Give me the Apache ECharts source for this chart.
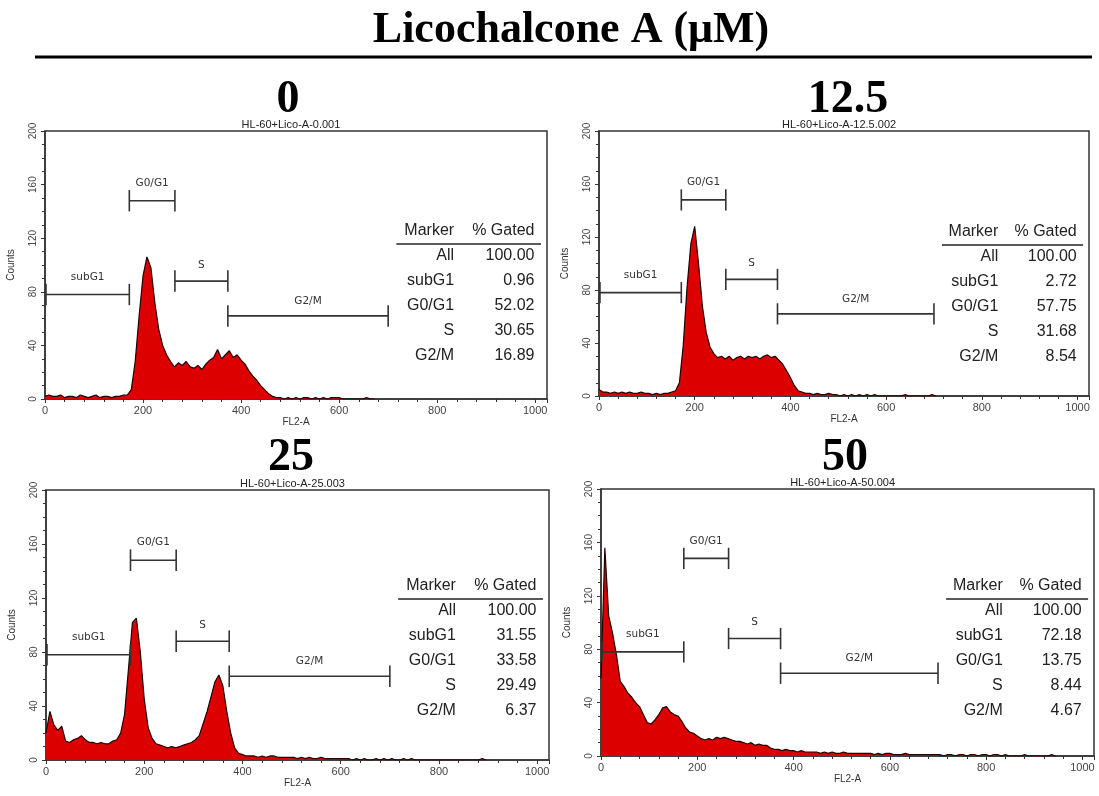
<!DOCTYPE html>
<html>
<head>
<meta charset="utf-8">
<title>Licochalcone A cell cycle</title>
<script src="https://cdn.jsdelivr.net/npm/echarts@6/dist/echarts.min.js"></script>
<style>
  html, body { margin: 0; padding: 0; background: #fff; }
  #chart { width: 1099px; height: 796px; }
</style>
</head>
<body>
<div id="chart"></div>
<script>
// width of one histogram bin on FL2-A (channels)
const binWidth = 8

// counts per bin (bin 0 = channel 0)
const counts0 = [2, 3, 2, 2, 3, 1, 2, 2, 1, 3, 2, 1, 2, 3, 1, 2, 2, 1, 2, 2,
  3, 3, 7, 28, 62, 92, 106, 98, 72, 52, 40, 33, 28, 24, 27, 25, 28, 24, 23, 25,
  22, 26, 29, 31, 37, 30, 33, 36, 31, 33, 29, 26, 21, 17, 14, 10, 7, 4, 2, 1,
  1, 0, 1, 0, 1, 0, 1, 1, 0, 1, 0, 1, 0, 1, 1, 1, 0, 0, 0, 0,
  0, 0, 1, 0, 0]
const counts12 = [5, 3, 3, 2, 3, 2, 3, 2, 3, 2, 2, 3, 2, 2, 1, 2, 1, 2, 2, 3,
  4, 10, 38, 82, 115, 128, 100, 68, 48, 37, 32, 29, 30, 28, 30, 27, 29, 30, 28, 30,
  29, 30, 28, 30, 31, 29, 30, 27, 24, 19, 14, 8, 4, 3, 2, 2, 1, 2, 1, 1,
  2, 1, 1, 0, 1, 0, 1, 0, 1, 0, 1, 0, 1, 0, 0, 0, 0, 0, 0, 0,
  1, 0, 0, 0, 0, 0, 0, 1, 0]
const counts25 = [20, 36, 26, 22, 25, 14, 13, 15, 16, 18, 15, 13, 13, 12, 13, 12, 12, 14, 15, 20,
  34, 68, 102, 105, 80, 45, 24, 16, 12, 11, 10, 9, 10, 9, 10, 11, 12, 13, 15, 18,
  27, 36, 47, 58, 63, 55, 36, 20, 9, 5, 4, 3, 3, 3, 2, 3, 2, 3, 3, 2,
  2, 2, 2, 2, 1, 2, 1, 2, 1, 1, 2, 1, 1, 1, 1, 1, 1, 1, 0, 1,
  0, 1, 0, 0, 1, 0, 1, 0, 1, 0, 0, 1, 0, 1, 0, 0, 0, 0, 0, 0,
  0, 0, 0, 0, 0, 0, 0, 0, 0, 0, 0, 1, 0]
const counts50 = [58, 156, 105, 92, 76, 56, 52, 47, 44, 40, 37, 31, 25, 24, 27, 31, 36, 37, 33, 31,
  30, 26, 21, 18, 17, 15, 13, 12, 13, 12, 14, 13, 14, 13, 12, 11, 11, 10, 9, 10,
  8, 9, 8, 8, 6, 5, 5, 4, 5, 4, 4, 3, 4, 3, 3, 3, 3, 2, 3, 2,
  3, 2, 2, 3, 2, 2, 2, 2, 2, 2, 2, 1, 2, 1, 2, 2, 1, 1, 1, 2,
  1, 1, 1, 1, 1, 1, 1, 1, 1, 0, 1, 1, 0, 1, 1, 0, 1, 1, 0, 1,
  1, 0, 1, 1, 0, 1, 0, 0, 0, 0, 1, 0, 0, 0, 0, 0, 0, 1, 0]

const doses = ['0', '12.5', '25', '50']
const sampleNames = ['HL-60+Lico-A-0.001', 'HL-60+Lico-A-12.5.002', 'HL-60+Lico-A-25.003', 'HL-60+Lico-A-50.004']

// gate markers (FL2-A range, height on the counts axis)
const markerNames = ['subG1', 'G0/G1', 'S', 'G2/M']
const markerStart = [2, 172, 265, 373]
const markerEnd = [172, 265, 373, 700]
const markerLevel = [78, 148, 88, 62]
const markerLabelLevel = [91, 161, 100, 73]

// % gated tables
const tableRows = ['All', 'subG1', 'G0/G1', 'S', 'G2/M']
const gated0 = [100.00, 0.96, 52.02, 30.65, 16.89]
const gated12 = [100.00, 2.72, 57.75, 31.68, 8.54]
const gated25 = [100.00, 31.55, 33.58, 29.49, 6.37]
const gated50 = [100.00, 72.18, 13.75, 8.44, 4.67]

const allCounts = [counts0, counts12, counts25, counts50]
const allGated = [gated0, gated12, gated25, gated50]

// pixel layout of the four panels
const panels = [
  { left: 45, top: 131, width: 502, height: 268, titleX: 288, titleY: 100, tableTop: 100 },
  { left: 599, top: 131, width: 490, height: 265, titleX: 848, titleY: 100, tableTop: 101 },
  { left: 46, top: 490, width: 503, height: 270, titleX: 291, titleY: 458, tableTop: 96 },
  { left: 601, top: 489, width: 493, height: 267, titleX: 845, titleY: 458, tableTop: 97 }
]

const axisColor = '#333'
const grids = []
const xAxes = []
const yAxes = []
const series = []
const graphics = []

// main title and rule
graphics.push({
  type: 'text', x: 571, y: 31,
  style: { text: 'Licochalcone A (μM)', font: 'bold 44px "Liberation Serif", serif', fill: '#000',
    align: 'center', verticalAlign: 'middle', textAlign: 'center', textVerticalAlign: 'middle' }
})
graphics.push({
  type: 'line', shape: { x1: 35, y1: 57, x2: 1092, y2: 57 },
  style: { stroke: '#000', lineWidth: 3 }
})

panels.forEach(function (p, i) {
  grids.push({ left: p.left, top: p.top, width: p.width, height: p.height,
    show: true, borderColor: axisColor, borderWidth: 1.5, backgroundColor: 'transparent' })
  xAxes.push({
    type: 'value', gridIndex: i, min: 0, max: 1024, interval: 200,
    name: 'FL2-A', nameLocation: 'middle', nameGap: 17,
    nameTextStyle: { fontSize: 10, color: '#333', fontFamily: 'Liberation Sans' },
    axisLine: { show: true, lineStyle: { color: axisColor, width: 1.5 } },
    axisTick: { show: true, length: 4, lineStyle: { color: axisColor } },
    minorTick: { show: true, splitNumber: 5, length: 3, lineStyle: { color: axisColor } },
    splitLine: { show: false },
    axisLabel: { fontSize: 11, color: '#444', margin: 6, fontFamily: 'Liberation Sans', showMaxLabel: false,
      formatter: function (v) { return v % 200 === 0 ? String(v) : '' } }
  })
  yAxes.push({
    type: 'value', gridIndex: i, min: 0, max: 200, interval: 40,
    name: 'Counts', nameLocation: 'middle', nameGap: 29, nameRotate: 90,
    nameTextStyle: { fontSize: 10, color: '#333', fontFamily: 'Liberation Sans' },
    axisLine: { show: true, lineStyle: { color: axisColor, width: 1.5 } },
    axisTick: { show: true, length: 4, lineStyle: { color: axisColor } },
    minorTick: { show: true, splitNumber: 4, length: 3, lineStyle: { color: axisColor } },
    splitLine: { show: false },
    axisLabel: { rotate: 90, fontSize: 10, color: '#444', margin: 7, fontFamily: 'Liberation Sans' }
  })

  // histogram
  const data = allCounts[i].map(function (c, k) { return [k * binWidth, c] })
  series.push({
    type: 'line', xAxisIndex: i, yAxisIndex: i, data: data,
    symbol: 'none', smooth: false, clip: true,
    lineStyle: { color: '#200000', width: 1.2 },
    areaStyle: { color: '#dc0000', opacity: 1 },
    z: 2
  })

  // gate markers
  const mdata = markerNames.map(function (n, k) {
    return [markerStart[k], markerEnd[k], markerLevel[k], markerLabelLevel[k]]
  })
  series.push({
    type: 'custom', xAxisIndex: i, yAxisIndex: i, data: mdata,
    encode: { x: [0, 1], y: 2 }, z: 5, silent: true,
    renderItem: function (params, api) {
      const s = api.coord([api.value(0), api.value(2)])
      const e = api.coord([api.value(1), api.value(2)])
      const lab = api.coord([(api.value(0) + api.value(1)) / 2, api.value(3)])
      const cap = api.size([0, 8])[1]
      const st = { stroke: '#333', lineWidth: 1.6 }
      return {
        type: 'group',
        children: [
          { type: 'line', shape: { x1: s[0], y1: s[1], x2: e[0], y2: e[1] }, style: st },
          { type: 'line', shape: { x1: s[0], y1: s[1] - cap, x2: s[0], y2: s[1] + cap }, style: st },
          { type: 'line', shape: { x1: e[0], y1: e[1] - cap, x2: e[0], y2: e[1] + cap }, style: st },
          { type: 'text', x: lab[0], y: lab[1],
            style: { text: markerNames[params.dataIndex], fill: '#333', font: '10.5px "DejaVu Sans", sans-serif',
              align: 'center', verticalAlign: 'middle', textAlign: 'center', textVerticalAlign: 'middle' } }
        ]
      }
    }
  })

  // dose title and sample name
  graphics.push({
    type: 'text', x: p.titleX, y: p.titleY,
    style: { text: doses[i], font: 'bold 46px "Liberation Serif", serif', fill: '#000',
      align: 'center', verticalAlign: 'middle', textAlign: 'center', textVerticalAlign: 'middle' }
  })
  graphics.push({
    type: 'text', x: p.left + p.width * 0.49, y: p.top - 6,
    style: { text: sampleNames[i], font: '11px "Liberation Sans", sans-serif', fill: '#222',
      align: 'center', verticalAlign: 'middle', textAlign: 'center', textVerticalAlign: 'middle' }
  })

  // % gated table
  const labelRight = p.left + p.width * 0.815
  const valueRight = p.left + p.width * 0.975
  const headY = p.top + p.tableTop
  const tfont = '16px "Liberation Sans", sans-serif'
  function cell(txt, x, y) {
    return { type: 'text', x: x, y: y,
      style: { text: txt, font: tfont, fill: '#222',
        align: 'right', verticalAlign: 'middle', textAlign: 'right', textVerticalAlign: 'middle' } }
  }
  graphics.push(cell('Marker', labelRight, headY))
  graphics.push(cell('% Gated', valueRight, headY))
  graphics.push({
    type: 'line', shape: { x1: p.left + p.width * 0.70, y1: headY + 13, x2: p.left + p.width * 0.988, y2: headY + 13 },
    style: { stroke: '#222', lineWidth: 1.5 }
  })
  tableRows.forEach(function (r, k) {
    const y = headY + 25 + k * 24.8
    graphics.push(cell(r, labelRight, y))
    graphics.push(cell(allGated[i][k].toFixed(2), valueRight, y))
  })
})

const chart = echarts.init(document.getElementById('chart'))
chart.setOption({
  animation: false,
  backgroundColor: '#fff',
  grid: grids,
  xAxis: xAxes,
  yAxis: yAxes,
  series: series,
  graphic: graphics
})
</script>
</body>
</html>
